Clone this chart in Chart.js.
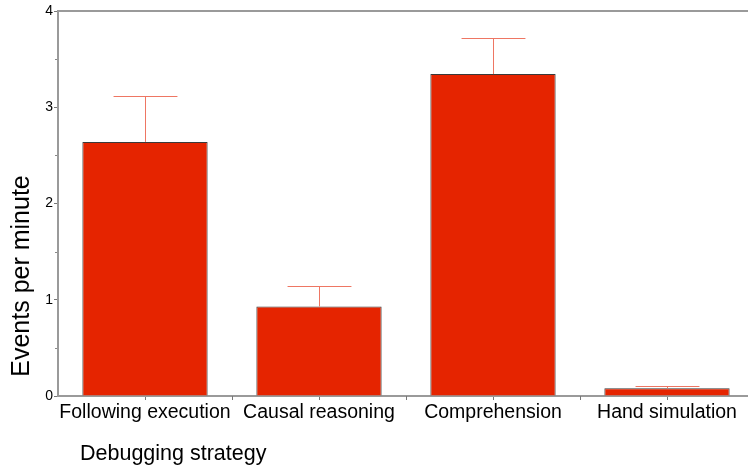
<!DOCTYPE html>
<html>
<head>
<meta charset="utf-8">
<title>Events per minute by debugging strategy</title>
<script src="https://cdn.jsdelivr.net/npm/chart.js@4/dist/chart.umd.min.js"></script>
<style>
  html, body { margin: 0; padding: 0; background: #fff; overflow: hidden; }
  #wrap { width: 760px; height: 472px; }
</style>
</head>
<body>
<div id="wrap"><canvas id="chart" width="760" height="472"></canvas></div>
<script>
// Debugging strategies and their mean event rates
const categories = ['Following execution', 'Causal reasoning', 'Comprehension', 'Hand simulation'];
const eventsPerMinute = [2.64, 0.93, 3.345, 0.08];
// Top of each upper error whisker
const errorUpper = [3.12, 1.14, 3.72, 0.106];
const yTicks = [0, 1, 2, 3, 4];

const FONT = '"Liberation Sans", Arial, Helvetica, sans-serif';
const AXIS_GRAY = '#9a9a9a';

// Whiskers, extra axis decoration and axis titles
const decorations = {
  id: 'decorations',
  afterDatasetsDraw(chart) {
    const ctx = chart.ctx;
    const y = chart.scales.y;
    const meta = chart.getDatasetMeta(0);
    ctx.save();
    ctx.strokeStyle = '#ee7663';
    ctx.lineWidth = 1;
    meta.data.forEach((bar, i) => {
      const x = Math.round(bar.x) + 0.5;
      const yTop = Math.round(y.getPixelForValue(errorUpper[i])) + 0.5;
      const yBar = y.getPixelForValue(eventsPerMinute[i]);
      const half = bar.width * 0.255;
      ctx.beginPath();
      ctx.moveTo(x, yBar);
      ctx.lineTo(x, yTop);
      ctx.moveTo(x - half, yTop);
      ctx.lineTo(x + half, yTop);
      ctx.stroke();
    });
    ctx.restore();
  },
  afterDraw(chart) {
    const ctx = chart.ctx;
    const area = chart.chartArea;
    const x = chart.scales.x;
    const y = chart.scales.y;
    ctx.save();
    // top frame line
    ctx.strokeStyle = AXIS_GRAY;
    ctx.lineWidth = 2;
    ctx.beginPath();
    ctx.moveTo(area.left, area.top);
    ctx.lineTo(chart.width, area.top);
    ctx.stroke();
    // category boundary ticks on the x axis
    ctx.strokeStyle = '#777';
    ctx.lineWidth = 1;
    for (let i = 1; i < categories.length; i++) {
      const px = Math.round((x.getPixelForValue(i - 1) + x.getPixelForValue(i)) / 2) + 0.5;
      ctx.beginPath();
      ctx.moveTo(px, area.bottom);
      ctx.lineTo(px, area.bottom + 4);
      ctx.stroke();
    }
    // minor y ticks at half steps
    ctx.fillStyle = '#888';
    for (let v = 0.5; v < 4; v += 1) {
      const py = Math.round(y.getPixelForValue(v));
      ctx.fillRect(area.left - 3, py, 2, 1);
    }
    // axis titles
    ctx.fillStyle = '#000';
    ctx.font = '21.5px ' + FONT;
    ctx.textAlign = 'left';
    ctx.textBaseline = 'alphabetic';
    ctx.fillText('Debugging strategy', 80, 460);
    ctx.translate(22, 276);
    ctx.rotate(-Math.PI / 2);
    ctx.font = '25px ' + FONT;
    ctx.textAlign = 'center';
    ctx.textBaseline = 'middle';
    ctx.fillText('Events per minute', 0, 0);
    ctx.restore();
  }
};

new Chart(document.getElementById('chart'), {
  type: 'bar',
  data: {
    labels: categories,
    datasets: [{
      data: eventsPerMinute,
      backgroundColor: '#e52400',
      borderColor: '#3a3a3a',
      borderWidth: 1,
      borderSkipped: 'start',
      barPercentage: 0.72,
      categoryPercentage: 1
    }]
  },
  options: {
    responsive: false,
    animation: false,
    devicePixelRatio: 1,
    layout: { padding: { left: 0, top: 11, right: 6, bottom: 0 } },
    plugins: { legend: { display: false }, tooltip: { enabled: false } },
    scales: {
      x: {
        offset: true,
        grid: { display: true, drawOnChartArea: false, drawTicks: true, tickLength: 4, tickColor: '#777', offset: false },
        border: { display: true, color: AXIS_GRAY, width: 2 },
        ticks: { color: '#000', font: { family: FONT, size: 19.5 }, padding: 1, maxRotation: 0, autoSkip: false },
        afterFit(scale) { scale.height = 76; }
      },
      y: {
        min: 0,
        max: 4,
        afterBuildTicks(scale) { scale.ticks = yTicks.map(v => ({ value: v })); },
        grid: { display: true, drawOnChartArea: false, drawTicks: true, tickLength: 4, tickColor: '#777' },
        border: { display: true, color: AXIS_GRAY, width: 2 },
        ticks: { color: '#000', font: { family: FONT, size: 14 }, padding: 1 },
        afterFit(scale) { scale.width = 58; }
      }
    }
  },
  plugins: [decorations]
});
</script>
</body>
</html>
